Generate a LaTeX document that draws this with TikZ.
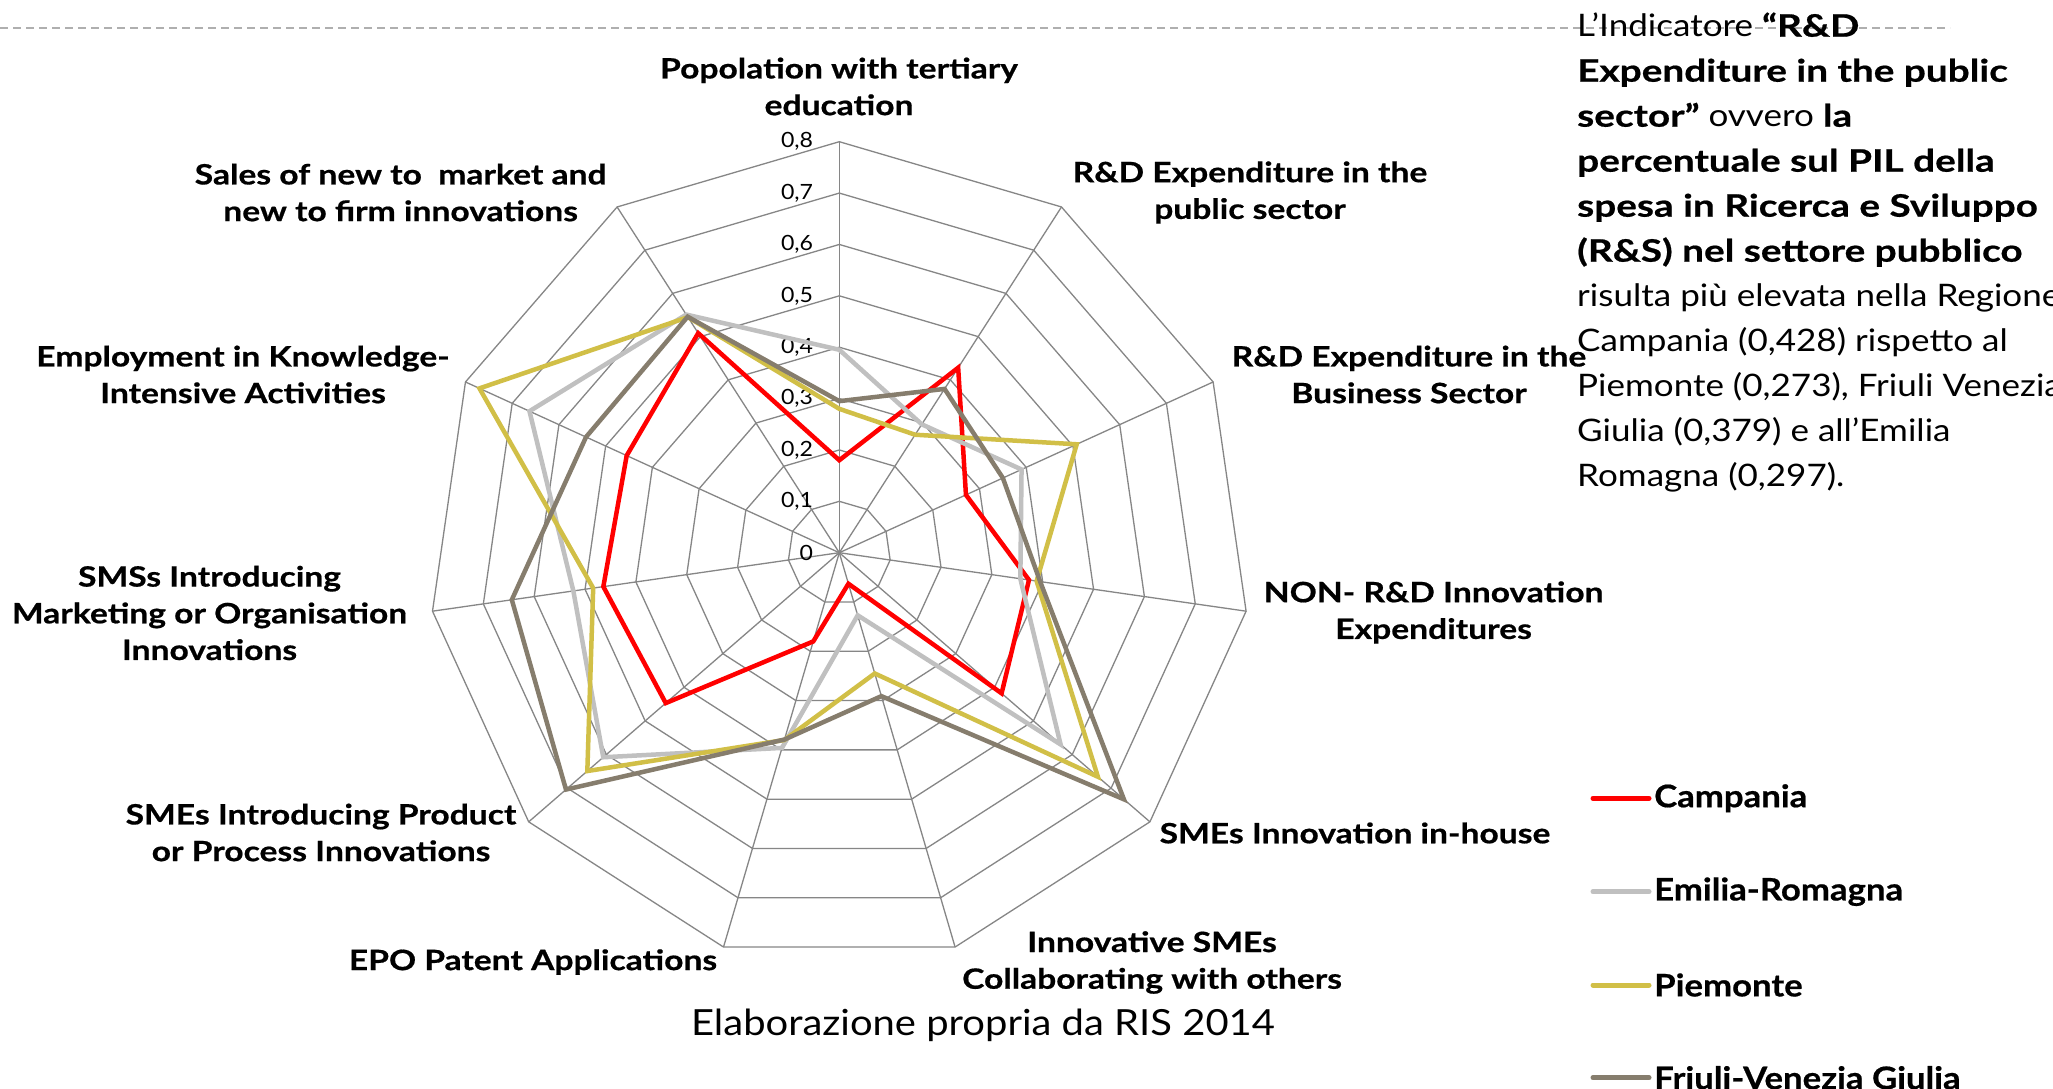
\documentclass[tikz,border=0pt]{standalone}
\usepackage{fontspec}
\setmainfont{Lato}
\newfontfamily\lblf{Lato}[FakeStretch=1.2,BoldFeatures={FakeBold=0.6}]
\newfontfamily\rtreg{Lato}[FakeStretch=1.13]
\newfontfamily\rtbold{Lato}[FakeStretch=1.25,BoldFeatures={FakeBold=0.6}]
\newfontfamily\legf{Lato}[FakeStretch=1.12,BoldFeatures={FakeBold=0.6}]
\newfontfamily\capf{Lato}[FakeStretch=1.11]
\newfontfamily\tickf{Lato}[FakeStretch=1.1]
\newcommand\rb[1]{{\rtbold\bfseries #1}}
\usetikzlibrary{calc}
\definecolor{cgrid}{RGB}{134,134,134}
\definecolor{cred}{RGB}{255,0,0}
\definecolor{cgrey}{RGB}{192,192,192}
\definecolor{cyel}{RGB}{209,191,71}
\definecolor{cbrown}{RGB}{134,125,109}
\definecolor{cdash}{RGB}{175,175,175}
\begin{document}
\begin{tikzpicture}[x=1pt,y=1pt,
  gridline/.style={draw=cgrid,line width=1.3pt},
  serie/.style={line width=4.5pt,line join=miter},
  ticklbl/.style={font=\tickf\fontsize{21}{24}\selectfont,anchor=east,inner sep=0pt},
  lbl/.style={font=\lblf\fontsize{28}{36.7}\selectfont\bfseries,align=center,inner sep=0pt},
  txt/.style={font=\rtreg\fontsize{31}{45}\selectfont,anchor=base west,inner sep=0pt},
  legline/.style={line width=5pt,line cap=round},
  legtxt/.style={font=\legf\fontsize{31}{36}\selectfont\bfseries,anchor=west,inner sep=0pt}]
\useasboundingbox (0,0) rectangle (2053,-1089);
\fill[white] (0,0) rectangle (2053,-1089);
% top dashed rule
\coordinate (dl) at (0,-28);
\coordinate (dr) at (1950,-28);
\draw[cdash,line width=1.5pt,dash pattern=on 8pt off 5pt] (dl) -- (dr);
% radar chart
\begin{scope}[shift={(839.3,-552.7)}]
\coordinate (O) at (0,0);
\foreach \k in {0,...,10}{
  \coordinate (U\k) at ({90-\k*360/11}:513.75);
  \coordinate (E\k) at ({90-\k*360/11}:411);
}
\foreach \l [evaluate=\l as \f using \l/10] in {1,...,8}
  \draw[gridline] ($(O)!\f!(U0)$) \foreach \k in {1,...,10}{ -- ($(O)!\f!(U\k)$)} -- cycle;
\foreach \k in {0,...,10} \draw[gridline] (O) -- (E\k);
\foreach \l in {0,...,8}
  \node[ticklbl] (t\l) at (-26,\l*51.375) {\ifnum\l=0 0\else 0,\l\fi};
% series
\draw[serie,cred] ($(O)!.180!(U0)$) \foreach \v [count=\k] in {.428,.271,.373,.418,.063,.180,.447,.464,.455,.508}{ -- ($(O)!\v!(U\k)$)} -- cycle;
\draw[serie,cgrey] ($(O)!.395!(U0)$) \foreach \v [count=\k] in {.297,.390,.356,.570,.127,.396,.608,.523,.663,.551}{ -- ($(O)!\v!(U\k)$)} -- cycle;
\draw[serie,cyel] ($(O)!.280!(U0)$) \foreach \v [count=\k] in {.273,.508,.388,.666,.245,.380,.649,.484,.770,.545}{ -- ($(O)!\v!(U\k)$)} -- cycle;
\draw[serie,cbrown] ($(O)!.295!(U0)$) \foreach \v [count=\k] in {.379,.350,.395,.733,.291,.379,.704,.644,.542,.546}{ -- ($(O)!\v!(U\k)$)} -- cycle;
\end{scope}
% axis labels
\node[lbl] (l0) at (839,-86.5) {Popolation with tertiary\\education};
\node[lbl] (l1) at (1250,-192.5) {R\&D Expenditure in the\\public sector};
\node[lbl] (l2) at (1409,-374.5) {R\&D Expenditure in the\\Business Sector};
\node[lbl] (l3) at (1433.6,-612.5) {NON- R\&D Innovation\\Expenditures};
\node[lbl] (l4) at (1355,-833) {SMEs Innovation in-house};
\node[lbl] (l5) at (1152,-962.5) {Innovative SMEs\\Collaborating with others};
\node[lbl] (l6) at (533,-962) {EPO Patent Applications};
\node[lbl] (l7) at (321,-832.5) {SMEs Introducing Product\\or Process Innovations};
\node[lbl] (l8) at (209.5,-613) {SMSs Introducing\\Marketing or Organisation\\Innovations};
\node[lbl] (l9) at (243,-374.5) {Employment in Knowledge-\\Intensive Activities};
\node[lbl] (l10) at (400.6,-192.5) {Sales of new to \ market and\\new to firm innovations};
% caption
\node[font=\capf\fontsize{36}{40}\selectfont,inner sep=0pt] (cap) at (983,-1025) {Elaborazione propria da RIS 2014};
% right text
\node[txt] (r1) at (1577,-36.7) {L’Indicatore \rb{“R\&D}};
\node[txt] (r2) at (1577,-81.7) {\rb{Expenditure in the public}};
\node[txt] (r3) at (1577,-126.7) {\rb{sector”} ovvero \rb{la}};
\node[txt] (r4) at (1577,-171.7) {\rb{percentuale sul PIL della}};
\node[txt] (r5) at (1577,-216.7) {\rb{spesa in Ricerca e Sviluppo}};
\node[txt] (r6) at (1577,-261.7) {\rb{(R\&S) nel settore pubblico}};
\node[txt] (r7) at (1577,-306.7) {risulta più elevata nella Regione};
\node[txt] (r8) at (1577,-351.7) {Campania (0,428) rispetto al};
\node[txt] (r9) at (1577,-396.7) {Piemonte (0,273), Friuli Venezia};
\node[txt] (r10) at (1577,-441.7) {Giulia (0,379) e all’Emilia};
\node[txt] (r11) at (1577,-486.7) {Romagna (0,297).};
% legend
\foreach \n/\c/\y/\t in {a/cred/798.3/Campania,b/cgrey/891.7/Emilia-Romagna,c/cyel/985/Piemonte,d/cbrown/1077.7/Friuli-Venezia Giulia}{
  \coordinate (la\n) at (1593,-\y);
  \coordinate (lb\n) at (1649,-\y);
  \draw[legline,\c] (la\n) -- (lb\n);
  \node[legtxt] (lt\n) at (1654,-\y) {\t};
}
\end{tikzpicture}
\end{document}
